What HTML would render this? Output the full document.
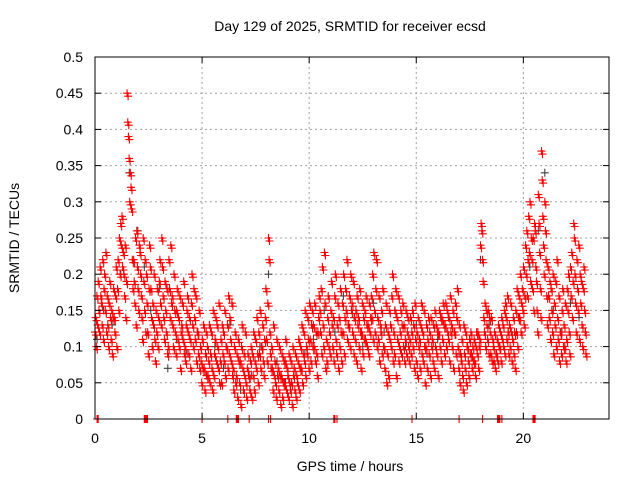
<!DOCTYPE html>
<html><head><meta charset="utf-8"><style>
html,body{margin:0;padding:0;background:#fff}
svg{display:block;font-family:"Liberation Sans",sans-serif}
</style></head><body>
<svg id="chart" width="640" height="480" viewBox="0 0 640 480">
<rect width="640" height="480" fill="#fff"/>
<text x="350" y="31" text-anchor="middle" font-size="14" fill="#000">Day 129 of 2025, SRMTID for receiver ecsd</text>
<text x="350" y="471" text-anchor="middle" font-size="14" fill="#000">GPS time / hours</text>
<text transform="translate(19,238) rotate(-90)" text-anchor="middle" font-size="14" fill="#000">SRMTID / TECUs</text>
<g id="grid"></g>
<g id="dark"></g>
<g id="red"></g>
<g id="axes"></g>
</svg>
<script>
const xTicks = [0,5,10,15,20];
const yTicks = [0,0.05,0.1,0.15,0.2,0.25,0.3,0.35,0.4,0.45,0.5];
const yTickLabels = ["0","0.05","0.1","0.15","0.2","0.25","0.3","0.35","0.4","0.45","0.5"];
const binStep = 0.15;
const redVals = [
[.12,.14,.10,.17,.13],[.19,.15,.12,.21,.17],[.16,.13,.22,.11,.18],[.20,.15,.23,.12,.17],[.13,.10,.16,.19,.14],
[.11,.15,.09,.14,.18],[.14,.12,.17,.21,.10],[.18,.22,.15,.25,.20],[.27,.24,.28,.21,.23],[.20,.17,.24,.14,.19],
[.45,.41,.39,.36,.30],[.34,.32,.29,.22,.18],[.22,.19,.16,.25,.13],[.26,.21,.18,.15,.24],[.23,.20,.17,.14,.11],
[.25,.19,.15,.22,.12],[.20,.16,.12,.09,.18],[.24,.21,.18,.14,.10],[.16,.13,.20,.11,.08],[.15,.12,.18,.10,.14],
[.19,.22,.16,.13,.25],[.21,.17,.14,.11,.19],[.15,.12,.18,.09,.10],[.22,.18,.14,.24,.16],[.17,.13,.10,.20,.15],
[.12,.09,.15,.18,.11],[.14,.10,.17,.07,.12],[.13,.16,.11,.19,.09],[.10,.08,.13,.15,.17],[.12,.09,.14,.11,.07],
[.16,.20,.13,.10,.18],[.14,.11,.17,.08,.12],[.12,.09,.15,.07,.10],[.08,.05,.11,.07,.13],[.07,.04,.09,.12,.06],
[.10,.06,.08,.13,.05],[.09,.12,.07,.04,.15],[.06,.09,.11,.14,.08],[.13,.10,.07,.16,.05],[.08,.11,.05,.13,.09],
[.12,.08,.15,.06,.10],[.10,.13,.07,.17,.09],[.14,.11,.08,.16,.06],[.07,.04,.10,.12,.05],[.06,.09,.03,.11,.08],
[.05,.08,.02,.10,.13],[.07,.04,.09,.06,.12],[.05,.03,.07,.09,.06],[.06,.04,.08,.10,.03],[.09,.06,.12,.04,.08],
[.11,.07,.14,.09,.05],[.12,.09,.15,.07,.10],[.10,.13,.08,.06,.11],[.14,.18,.11,.08,.16],[.25,.22,.12,.09,.07],
[.10,.07,.04,.13,.06],[.08,.05,.03,.11,.06],[.07,.04,.10,.06,.02],[.06,.09,.03,.05,.08],[.05,.08,.11,.04,.07],
[.06,.03,.09,.05,.04],[.08,.05,.02,.10,.06],[.07,.04,.09,.03,.06],[.05,.08,.11,.04,.07],[.10,.07,.13,.05,.09],
[.12,.08,.15,.06,.10],[.09,.14,.11,.07,.16],[.11,.08,.13,.15,.10],[.13,.10,.16,.08,.12],[.09,.06,.12,.14,.17],
[.15,.12,.18,.09,.21],[.13,.10,.23,.16,.07],[.11,.08,.14,.17,.10],[.12,.09,.15,.19,.13],[.10,.14,.08,.17,.20],
[.11,.09,.13,.16,.07],[.14,.10,.18,.12,.08],[.16,.12,.20,.09,.14],[.18,.15,.22,.11,.13],[.13,.17,.10,.20,.15],
[.16,.12,.19,.09,.14],[.11,.15,.08,.17,.13],[.14,.10,.18,.12,.07],[.12,.16,.09,.14,.11],[.15,.11,.17,.13,.10],
[.13,.09,.16,.12,.14],[.17,.14,.20,.11,.23],[.15,.12,.18,.22,.10],[.14,.11,.17,.08,.13],[.12,.15,.09,.18,.10],
[.10,.07,.13,.16,.05],[.09,.12,.06,.15,.11],[.13,.10,.17,.20,.08],[.12,.09,.15,.18,.06],[.14,.11,.17,.08,.10],
[.12,.15,.09,.13,.16],[.10,.13,.08,.11,.15],[.09,.12,.14,.10,.08],[.11,.14,.09,.12,.15],[.10,.13,.07,.16,.11],
[.08,.12,.06,.14,.10],[.11,.07,.13,.16,.09],[.12,.08,.15,.10,.05],[.10,.13,.07,.11,.14],[.09,.12,.06,.14,.10],
[.11,.08,.13,.07,.15],[.10,.13,.09,.12,.06],[.12,.15,.10,.14,.08],[.14,.11,.16,.13,.09],[.13,.16,.10,.15,.12],
[.11,.14,.08,.17,.12],[.13,.10,.15,.07,.12],[.12,.16,.09,.14,.18],[.10,.07,.13,.05,.09],[.08,.11,.06,.04,.13],
[.09,.07,.12,.05,.10],[.10,.08,.06,.11,.09],[.12,.09,.07,.10,.08],[.11,.08,.06,.10,.12],[.09,.12,.07,.10,.11],
[.24,.27,.26,.22,.19],[.14,.12,.16,.10,.15],[.13,.11,.15,.09,.14],[.12,.09,.14,.08,.11],[.10,.08,.12,.07,.09],
[.09,.11,.08,.13,.10],[.10,.12,.08,.14,.11],[.13,.10,.15,.09,.16],[.14,.11,.17,.12,.09],[.13,.10,.16,.12,.08],
[.11,.14,.09,.12,.07],[.15,.12,.18,.10,.14],[.17,.14,.20,.12,.16],[.18,.15,.21,.13,.17],[.24,.20,.26,.17,.22],
[.28,.23,.30,.19,.25],[.22,.18,.25,.15,.27],[.26,.21,.19,.15,.12],[.31,.27,.23,.18,.14],[.37,.33,.28,.24,.20],
[.30,.26,.22,.17,.13],[.21,.17,.14,.19,.11],[.18,.15,.12,.20,.09],[.16,.13,.19,.10,.22],[.14,.11,.17,.08,.12],
[.12,.09,.15,.18,.10],[.13,.10,.16,.08,.11],[.18,.15,.20,.12,.09],[.21,.17,.23,.14,.19],[.27,.25,.20,.16,.12],
[.22,.18,.15,.24,.11],[.20,.16,.19,.13,.10],[.18,.21,.15,.12,.09]
];
const darkTimes = [0.1,0.4,0.8,1.2,1.6,2.0,2.3,2.6,3.0,3.4,3.8,4.3,4.8,5.2,5.6,6.0,6.3,6.8,7.3,7.7,8.1,8.1,8.5,8.9,9.3,9.8,10.2,10.7,11.2,11.6,12.1,12.5,13.0,13.5,14.0,14.5,15.0,15.5,16.0,16.5,17.0,17.5,18.0,18.4,18.9,19.3,19.8,20.3,20.7,21.0,21.4,21.8,22.2,22.6,22.9];
const darkVals = [.11,.15,.13,.20,.34,.26,.21,.15,.18,.07,.11,.09,.12,.06,.10,.07,.13,.04,.06,.10,.25,.20,.08,.05,.07,.09,.11,.15,.12,.17,.14,.10,.16,.12,.15,.10,.13,.09,.11,.14,.09,.11,.22,.13,.10,.12,.14,.21,.26,.34,.15,.12,.16,.14,.12];
const zeroTimes = [0.1,0.15,2.3,2.35,2.4,2.45,5.0,6.2,6.6,6.65,6.7,7.2,8.1,8.2,11.15,11.2,11.3,14.8,17.0,18.1,18.8,18.85,18.9,19.0,20.45,20.5,20.55];
const zeroVals = zeroTimes.map(()=>0);

const X0=95, X1=609, Y0=419, Y1=57, XMAX=24, YMAX=0.5;
function xs(t){return X0+(X1-X0)*t/XMAX;}
function ys(v){return Y0-(Y0-Y1)*v/YMAX;}
const NS="http://www.w3.org/2000/svg";
function mk(tag,attrs,parent){const e=document.createElementNS(NS,tag);for(const k in attrs)e.setAttribute(k,attrs[k]);parent.appendChild(e);return e;}

const grid=document.getElementById('grid'), axes=document.getElementById('axes');
yTicks.forEach((v,i)=>{
  const y=ys(v);
  if(i>0&&i<yTicks.length-1){const g=mk('line',{x1:X0,x2:X1,y1:y,y2:y,stroke:'#a0a0a0','stroke-dasharray':'2,3','stroke-width':1},grid);
  
  }
  const t1=mk('line',{x1:X0,x2:X0+6,y1:y,y2:y,stroke:'#000'},axes);
  
  
  const t2=mk('line',{x1:X1-6,x2:X1,y1:y,y2:y,stroke:'#000'},axes);
  
  
  const lb=mk('text',{x:83,y:y+5,'text-anchor':'end','font-size':14,fill:'#000'},axes);
  lb.textContent=yTickLabels[i];
  
  
});
xTicks.forEach(t=>{
  const x=xs(t);
  if(t>0){const g=mk('line',{x1:x,x2:x,y1:Y1,y2:Y0,stroke:'#a0a0a0','stroke-dasharray':'2,3','stroke-width':1},grid);
  
  }
  const t1=mk('line',{x1:x,x2:x,y1:Y0,y2:Y0-6,stroke:'#000'},axes);
  
  
  const t2=mk('line',{x1:x,x2:x,y1:Y1,y2:Y1+6,stroke:'#000'},axes);
  
  
  const lb=mk('text',{x:x,y:443,'text-anchor':'middle','font-size':14,fill:'#000'},axes);
  lb.textContent=String(t);
  
  
});
const frame=mk('rect',{x:X0,y:Y1,width:X1-X0,height:Y0-Y1,fill:'none',stroke:'#000','stroke-width':1},axes);



function crosses(pts,color,parent,name,dense){
  let d='';
  pts.forEach(([t,v])=>{
    const x=xs(t),y=ys(v);
    d+=`M${(x-4).toFixed(1)} ${y.toFixed(1)}h8M${x.toFixed(1)} ${(y-4).toFixed(1)}v8`;
    if(dense&&v>0){d+=`M${(x-3).toFixed(1)} ${(y+3).toFixed(1)}h8M${(x+1).toFixed(1)} ${(y-1).toFixed(1)}v8`;}
  });
  const p=mk('path',{d:d,stroke:color,'stroke-width':1.1,fill:'none'},parent);
  
  
}
const darkPts=darkTimes.map((t,i)=>[t,darkVals[i]]);
crosses(darkPts,'#404040',document.getElementById('dark'),'dark-markers',false);
const redPts=[];
redVals.forEach((arr,i)=>arr.forEach((v,k)=>{redPts.push([i*binStep+k*binStep/arr.length,v]);}));
zeroTimes.forEach((t,i)=>redPts.push([t,zeroVals[i]]));
crosses(redPts,'#ff0000',document.getElementById('red'),'red-markers',true);
</script>
</body></html>
